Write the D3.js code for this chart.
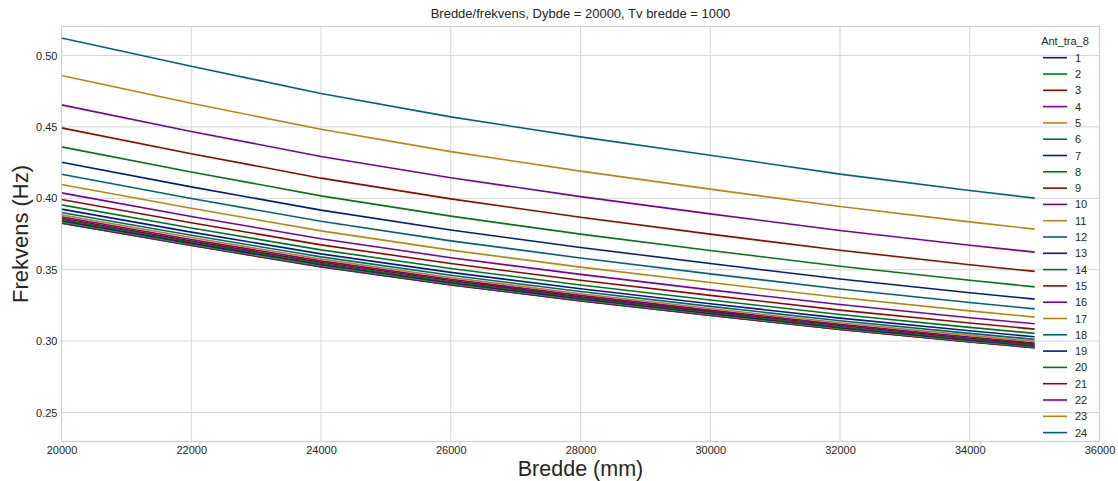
<!DOCTYPE html>
<html>
<head>
<meta charset="utf-8">
<script src="https://cdn.jsdelivr.net/npm/d3@7"></script>
<style>
  html, body { margin: 0; padding: 0; background: #fff; }
  svg { display: block; font-family: "Liberation Sans", Arial, sans-serif; }
</style>
</head>
<body>
<svg id="chart" width="1118" height="481"></svg>
<script>
// Width values (mm) where the frequency was evaluated
const bredde = [20000, 22000, 24000, 26000, 28000, 30000, 32000, 34000, 35000];

// Series names (Ant_tra_8)
const seriesNames = ["1","2","3","4","5","6","7","8","9","10","11","12",
                     "13","14","15","16","17","18","19","20","21","22","23","24"];

// Frequency (Hz) per series, one value for each width above
const f1  = [0.3826, 0.3669, 0.3520, 0.3394, 0.3282, 0.3180, 0.3081, 0.2994, 0.2953];
const f2  = [0.3828, 0.3671, 0.3522, 0.3395, 0.3283, 0.3181, 0.3082, 0.2995, 0.2954];
const f3  = [0.3830, 0.3673, 0.3524, 0.3397, 0.3285, 0.3183, 0.3084, 0.2996, 0.2955];
const f4  = [0.3833, 0.3675, 0.3526, 0.3399, 0.3287, 0.3185, 0.3086, 0.2998, 0.2957];
const f5  = [0.3836, 0.3678, 0.3529, 0.3402, 0.3290, 0.3188, 0.3089, 0.3001, 0.2960];
const f6  = [0.3840, 0.3682, 0.3533, 0.3406, 0.3294, 0.3191, 0.3092, 0.3004, 0.2963];
const f7  = [0.3845, 0.3687, 0.3538, 0.3410, 0.3298, 0.3195, 0.3096, 0.3008, 0.2967];
const f8  = [0.3852, 0.3694, 0.3544, 0.3416, 0.3304, 0.3201, 0.3101, 0.3013, 0.2972];
const f9  = [0.3860, 0.3701, 0.3552, 0.3424, 0.3311, 0.3208, 0.3109, 0.3020, 0.2979];
const f10 = [0.3871, 0.3712, 0.3562, 0.3433, 0.3320, 0.3217, 0.3117, 0.3029, 0.2987];
const f11 = [0.3884, 0.3725, 0.3574, 0.3445, 0.3332, 0.3228, 0.3128, 0.3040, 0.2998];
const f12 = [0.3901, 0.3741, 0.3590, 0.3461, 0.3347, 0.3243, 0.3143, 0.3054, 0.3012];
const f13 = [0.3924, 0.3763, 0.3611, 0.3481, 0.3367, 0.3262, 0.3161, 0.3072, 0.3030];
const f14 = [0.3954, 0.3792, 0.3639, 0.3509, 0.3393, 0.3288, 0.3186, 0.3096, 0.3054];
const f15 = [0.3992, 0.3829, 0.3674, 0.3543, 0.3426, 0.3320, 0.3217, 0.3127, 0.3084];
const f16 = [0.4038, 0.3873, 0.3717, 0.3584, 0.3467, 0.3359, 0.3256, 0.3164, 0.3121];
const f17 = [0.4097, 0.3930, 0.3772, 0.3637, 0.3518, 0.3410, 0.3305, 0.3212, 0.3168];
const f18 = [0.4169, 0.3999, 0.3839, 0.3702, 0.3582, 0.3471, 0.3365, 0.3270, 0.3226];
const f19 = [0.4253, 0.4080, 0.3917, 0.3778, 0.3656, 0.3543, 0.3435, 0.3339, 0.3294];
const f20 = [0.4360, 0.4184, 0.4017, 0.3875, 0.3749, 0.3635, 0.3524, 0.3426, 0.3380];
const f21 = [0.4493, 0.4312, 0.4141, 0.3996, 0.3867, 0.3749, 0.3636, 0.3535, 0.3488];
const f22 = [0.4654, 0.4468, 0.4293, 0.4144, 0.4012, 0.3891, 0.3775, 0.3671, 0.3623];
const f23 = [0.4860, 0.4666, 0.4483, 0.4327, 0.4190, 0.4064, 0.3942, 0.3835, 0.3784];
const f24 = [0.5123, 0.4925, 0.4734, 0.4570, 0.4430, 0.4302, 0.4169, 0.4055, 0.4001];

const frekvens = [f1,f2,f3,f4,f5,f6,f7,f8,f9,f10,f11,f12,f13,f14,f15,f16,f17,f18,f19,f20,f21,f22,f23,f24];

// Axis ticks
const xTicks = [20000, 22000, 24000, 26000, 28000, 30000, 32000, 34000, 36000];
const yTicks = [0.25, 0.30, 0.35, 0.40, 0.45, 0.50];

// Six-colour dark palette, cycled over the series
const palette = ["#001C7F", "#017517", "#8C0900", "#7600A1", "#B8860B", "#006374"];

const svg = d3.select("#chart");
const m = { left: 61.5, right: 1099.5, top: 26.5, bottom: 441.5 };

const x = d3.scaleLinear().domain([20000, 36000]).range([m.left, m.right]);
const y = d3.scaleLinear().domain([0.2297, 0.5203]).range([m.bottom, m.top]);

const gridColor = "#d5d5d5";
const textColor = "#262626";

// Grid lines
const grid = svg.append("g");
grid.selectAll("line.vx").data(xTicks).join("line")
  .attr("x1", d => x(d)).attr("x2", d => x(d))
  .attr("y1", m.top).attr("y2", m.bottom)
  .attr("stroke", gridColor).attr("stroke-width", 1);
grid.selectAll("line.hy").data(yTicks).join("line")
  .attr("x1", m.left).attr("x2", m.right)
  .attr("y1", d => y(d)).attr("y2", d => y(d))
  .attr("stroke", gridColor).attr("stroke-width", 1);

// Axes (tick labels only; the frame is drawn separately)
const xAxis = svg.append("g")
  .attr("transform", `translate(0,${m.bottom})`)
  .call(d3.axisBottom(x).tickValues(xTicks).tickFormat(d3.format("d")).tickSize(0).tickPadding(5));
const yAxis = svg.append("g")
  .attr("transform", `translate(${m.left},0)`)
  .call(d3.axisLeft(y).tickValues(yTicks).tickFormat(d3.format(".2f")).tickSize(0).tickPadding(4));
[xAxis, yAxis].forEach(a => {
  a.select(".domain").remove();
  a.selectAll("text").attr("fill", textColor).style("font-size", "11px")
    .style("font-family", "'Liberation Sans', Arial, sans-serif");
});

// Series lines
const line = d3.line().x((d, i) => x(bredde[i])).y(d => y(d));
svg.append("g").selectAll("path").data(frekvens).join("path")
  .attr("d", d => line(d))
  .attr("fill", "none")
  .attr("stroke", (d, i) => palette[i % palette.length])
  .attr("stroke-width", 1.6)
  .attr("stroke-linejoin", "round");

// Plot frame
svg.append("rect")
  .attr("x", m.left).attr("y", m.top)
  .attr("width", m.right - m.left).attr("height", m.bottom - m.top)
  .attr("fill", "none").attr("stroke", "#cfcfcf").attr("stroke-width", 1.2);

// Title and axis labels
svg.append("text")
  .attr("x", (m.left + m.right) / 2).attr("y", 18)
  .attr("text-anchor", "middle").attr("fill", textColor)
  .style("font-size", "13px")
  .text("Bredde/frekvens, Dybde = 20000, Tv bredde = 1000");

svg.append("text")
  .attr("x", (m.left + m.right) / 2).attr("y", 476)
  .attr("text-anchor", "middle").attr("fill", textColor)
  .style("font-size", "21.5px")
  .text("Bredde (mm)");

svg.append("text")
  .attr("transform", `translate(28,${(m.top + m.bottom) / 2}) rotate(-90)`)
  .attr("text-anchor", "middle").attr("fill", textColor)
  .style("font-size", "22px")
  .text("Frekvens (Hz)");

// Legend
const lg = svg.append("g");
lg.append("text")
  .attr("x", 1065).attr("y", 45)
  .attr("text-anchor", "middle").attr("fill", textColor)
  .style("font-size", "11px")
  .text("Ant_tra_8");
const items = lg.selectAll("g.item").data(seriesNames).join("g")
  .attr("transform", (d, i) => `translate(0,${57.7 + i * 16.3})`);
items.append("line")
  .attr("x1", 1043).attr("x2", 1067).attr("y1", 0).attr("y2", 0)
  .attr("stroke", (d, i) => palette[i % palette.length])
  .attr("stroke-width", 1.6);
items.append("text")
  .attr("x", 1075).attr("y", 4)
  .attr("fill", textColor)
  .style("font-size", "11px")
  .text(d => d);
</script>
</body>
</html>
